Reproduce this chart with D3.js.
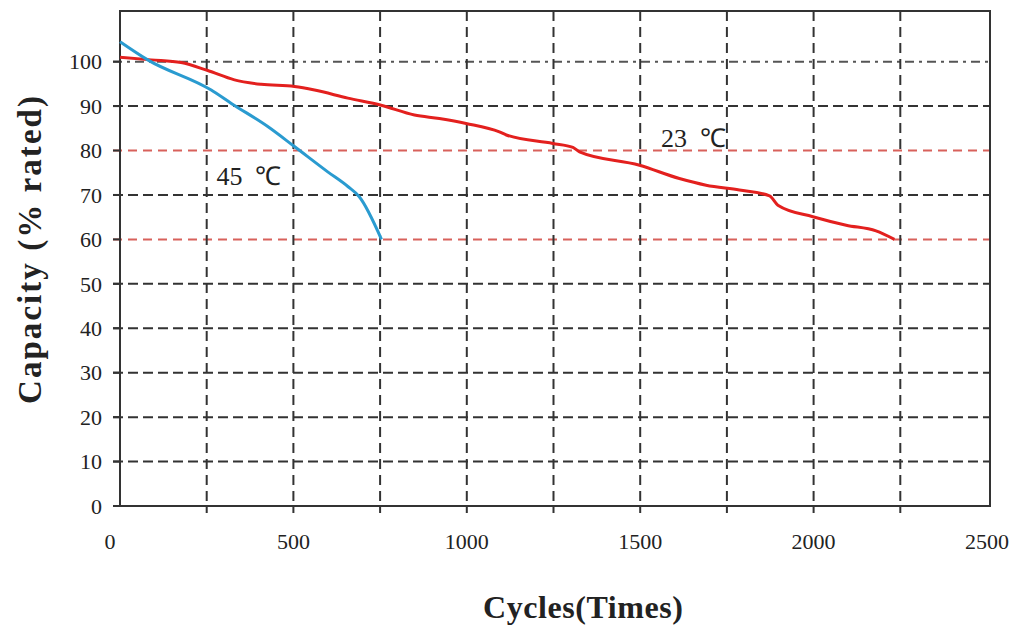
<!DOCTYPE html>
<html>
<head>
<meta charset="utf-8">
<script src="https://cdn.jsdelivr.net/npm/d3@7"></script>
<style>
  html, body { margin: 0; padding: 0; background: #fff; }
  svg { display: block; }
  text { font-family: "Liberation Serif", "Times New Roman", serif; fill: #222; }
</style>
</head>
<body>
<div id="chart"></div>
<script>
// cycles vs capacity (% rated)
const cycles23 = [0, 90, 176, 253, 330, 407, 503, 561, 657, 753, 849, 921, 998, 1094, 1114, 1248, 1306, 1325, 1498, 1613, 1690, 1786, 1873, 1897, 1998, 2094, 2180, 2233];
const capacity23 = [101.0, 100.4, 99.8, 98.0, 95.9, 94.9, 94.4, 93.6, 91.8, 90.2, 88.0, 87.2, 86.1, 84.2, 83.5, 81.6, 80.7, 79.7, 76.7, 73.7, 72.2, 71.1, 69.8, 67.7, 65.1, 63.2, 61.9, 60.0];

const cycles45 = [0, 80, 263, 321, 426, 503, 599, 657, 690, 754];
const capacity45 = [104.5, 100.4, 93.6, 90.6, 85.4, 80.9, 75.2, 71.9, 69.6, 60.0];

const xTicks = [0, 500, 1000, 1500, 2000, 2500];
const xGrid = [250, 500, 750, 1000, 1250, 1500, 1750, 2000, 2250];
const yTicks = [0, 10, 20, 30, 40, 50, 60, 70, 80, 90, 100];
const redGrid = [60, 80];

const labels = [
  { text: "45 \u2103", c: 278, v: 72.2 },
  { text: "23 \u2103", c: 1560, v: 80.8 }
];

const W = 1017, H = 626;
const margin = { top: 11, right: 27, bottom: 120, left: 120 };
const w = W - margin.left - margin.right;
const h = H - margin.top - margin.bottom;

const svg = d3.select('#chart').append('svg')
  .attr('width', W)
  .attr('height', H);

const g = svg.append('g')
  .attr('transform', `translate(${margin.left},${margin.top})`);

const x = d3.scaleLinear().domain([0, 2500]).range([0, w - 3]);
const y = d3.scaleLinear().domain([0, 111.4]).range([h, 0]);

// horizontal grid
g.selectAll('.hgrid')
  .data(yTicks.filter(d => d > 0))
  .enter()
  .append('line')
  .attr('class', 'hgrid')
  .attr('x1', -7)
  .attr('x2', w)
  .attr('y1', d => y(d))
  .attr('y2', d => y(d))
  .attr('stroke', d => redGrid.includes(d) ? '#d8615b' : (d === 100 ? '#555' : '#333'))
  .attr('stroke-width', 2)
  .attr('stroke-dasharray', d => d === 100 ? '9,5,3,5' : (redGrid.includes(d) ? '9,6' : '10,5'));

// vertical grid
g.selectAll('.vgrid')
  .data(xGrid)
  .enter()
  .append('line')
  .attr('class', 'vgrid')
  .attr('x1', d => x(d))
  .attr('x2', d => x(d))
  .attr('y1', 0)
  .attr('y2', h + 7)
  .attr('stroke', '#333')
  .attr('stroke-width', 2)
  .attr('stroke-dasharray', '10,6');

// y ticks + labels
g.selectAll('.ytick')
  .data(yTicks)
  .enter()
  .append('line')
  .attr('x1', -7).attr('x2', 0)
  .attr('y1', d => y(d)).attr('y2', d => y(d))
  .attr('stroke', '#333').attr('stroke-width', 2);

g.selectAll('.ylabel')
  .data(yTicks)
  .enter()
  .append('text')
  .attr('x', -18)
  .attr('y', d => y(d))
  .attr('dy', '0.35em')
  .attr('text-anchor', 'end')
  .attr('font-size', '22px')
  .text(d => d);

// x labels
g.selectAll('.xlabel')
  .data(xTicks)
  .enter()
  .append('text')
  .attr('x', d => x(d) - (d === 0 ? 10 : 0))
  .attr('y', h + 43)
  .attr('text-anchor', 'middle')
  .attr('font-size', '22px')
  .text(d => d);

// frame
g.append('rect')
  .attr('x', 0).attr('y', 0)
  .attr('width', w).attr('height', h)
  .attr('fill', 'none')
  .attr('stroke', '#333')
  .attr('stroke-width', 2);

// curves
const line = d3.line()
  .x(d => x(d[0]))
  .y(d => y(d[1]))
  .curve(d3.curveMonotoneX);

g.append('path')
  .datum(d3.zip(cycles23, capacity23))
  .attr('fill', 'none')
  .attr('stroke', '#e3201e')
  .attr('stroke-width', 3)
  .attr('d', line);

g.append('path')
  .datum(d3.zip(cycles45, capacity45))
  .attr('fill', 'none')
  .attr('stroke', '#2a9bd0')
  .attr('stroke-width', 3)
  .attr('d', line);

// annotations
g.selectAll('.anno')
  .data(labels)
  .enter()
  .append('text')
  .attr('x', d => x(d.c))
  .attr('y', d => y(d.v))
  .attr('font-size', '26px')
  .attr('word-spacing', '6px')
  .text(d => d.text);

// axis titles
svg.append('text')
  .attr('x', 583)
  .attr('y', 618)
  .attr('text-anchor', 'middle')
  .attr('font-size', '32px')
  .attr('font-weight', 'bold')
  .attr('textLength', 200)
  .text('Cycles(Times)');

svg.append('text')
  .attr('transform', 'translate(41,250) rotate(-90)')
  .attr('text-anchor', 'middle')
  .attr('font-size', '33px')
  .attr('font-weight', 'bold')
  .attr('textLength', 308)
  .text('Capacity (% rated)');
</script>
</body>
</html>
